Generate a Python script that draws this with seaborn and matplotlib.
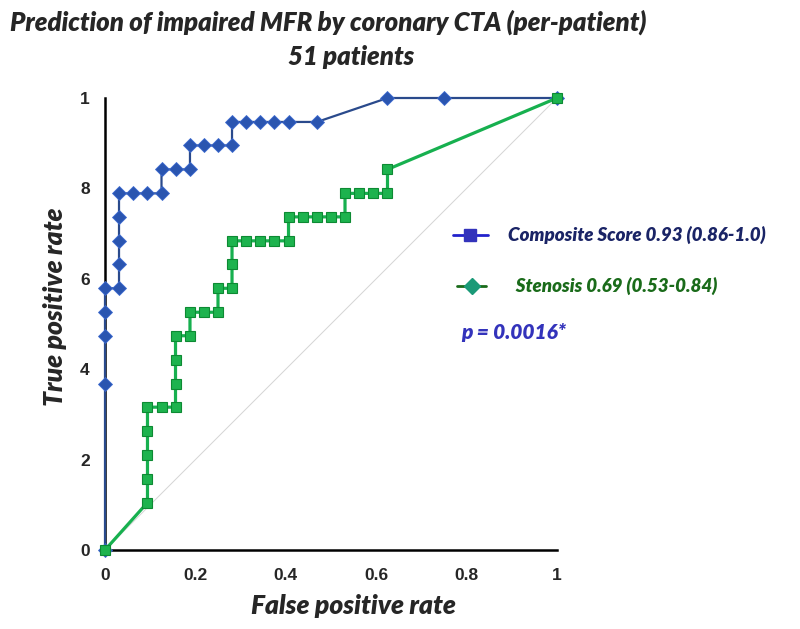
import matplotlib
matplotlib.use("Agg")
import matplotlib.pyplot as plt
import seaborn as sns
import pandas as pd
from matplotlib.lines import Line2D

# ---- data ----
comp_fpr = [0, 0, 0, 0, 0, 0.031, 0.031, 0.031, 0.031, 0.031, 0.063, 0.094, 0.125, 0.125,
            0.156, 0.188, 0.188, 0.219, 0.25, 0.281, 0.281, 0.313, 0.344, 0.375, 0.406,
            0.469, 0.625, 0.75, 1.0]
comp_tpr = [0, 0.368, 0.474, 0.526, 0.579, 0.579, 0.632, 0.684, 0.737, 0.789, 0.789, 0.789,
            0.789, 0.842, 0.842, 0.842, 0.895, 0.895, 0.895, 0.895, 0.947, 0.947, 0.947,
            0.947, 0.947, 0.947, 1.0, 1.0, 1.0]
sten_fpr = [0, 0.094, 0.094, 0.094, 0.094, 0.094, 0.125, 0.156, 0.156, 0.156, 0.156, 0.188,
            0.188, 0.219, 0.25, 0.25, 0.281, 0.281, 0.281, 0.313, 0.344, 0.375, 0.406,
            0.406, 0.438, 0.469, 0.5, 0.531, 0.531, 0.563, 0.594, 0.625, 0.625, 1.0]
sten_tpr = [0, 0.105, 0.158, 0.211, 0.263, 0.316, 0.316, 0.316, 0.368, 0.421, 0.474, 0.474,
            0.526, 0.526, 0.526, 0.579, 0.579, 0.632, 0.684, 0.684, 0.684, 0.684, 0.684,
            0.737, 0.737, 0.737, 0.737, 0.737, 0.789, 0.789, 0.789, 0.789, 0.842, 1.0]
ref_line = [0, 1]
x_ticks = [0, 0.2, 0.4, 0.6, 0.8, 1.0]
x_ticklabels = ["0", "0.2", "0.4", "0.6", "0.8", "1"]
y_ticks = [0, 0.2, 0.4, 0.6, 0.8, 1.0]
y_ticklabels = ["0", "2", "4", "6", "8", "1"]
title_lines = ["Prediction of impaired MFR by coronary CTA (per-patient)", "51 patients"]
leg_labels = ["Composite Score 0.93 (0.86-1.0)", "  Stenosis 0.69 (0.53-0.84)"]
p_text = "p = 0.0016*"

sns.set_style("white")
plt.rcParams['font.family'] = ['Lato', 'DejaVu Sans']
W = "heavy"

fig = plt.figure(figsize=(8, 6.29), dpi=100)
ax = fig.add_axes([105/800, 1-550/629, (557-105)/800, (550-98)/629])

# reference diagonal
sns.lineplot(x=ref_line, y=ref_line, ax=ax, color="#d4d4d4", linewidth=0.7, legend=False)

comp = pd.DataFrame({"fpr": comp_fpr, "tpr": comp_tpr})
sten = pd.DataFrame({"fpr": sten_fpr, "tpr": sten_tpr})

sns.lineplot(data=comp, x="fpr", y="tpr", ax=ax, sort=False, estimator=None,
             color="#2a4a8c", linewidth=1.6, marker="D", markersize=7,
             markerfacecolor="#2a55b0", markeredgecolor="#3d6ad0", markeredgewidth=0.6,
             clip_on=False, zorder=3, legend=False)
sns.lineplot(data=sten, x="fpr", y="tpr", ax=ax, sort=False, estimator=None,
             color="#17b04f", linewidth=2.3, marker="s", markersize=6.5,
             markerfacecolor="#1db34e", markeredgecolor="#0d8a33", markeredgewidth=0.8,
             clip_on=False, zorder=4, legend=False)

ax.set_xlim(0, 1)
ax.set_ylim(0, 1)
ax.set_xticks(x_ticks)
ax.set_xticklabels(x_ticklabels)
ax.set_yticks(y_ticks)
ax.set_yticklabels(y_ticklabels)
for lab in ax.get_xticklabels() + ax.get_yticklabels():
    lab.set_family(['Liberation Sans', 'DejaVu Sans'])
    lab.set_fontweight('bold')
    lab.set_fontsize(12.5)
ax.tick_params(axis='x', length=0, pad=13)
ax.tick_params(axis='y', length=0, pad=11)
for s in ["top", "right"]:
    ax.spines[s].set_visible(False)
for s in ["left", "bottom"]:
    ax.spines[s].set_color("black")
    ax.spines[s].set_linewidth(1.8)
    ax.spines[s].set_zorder(2)

ax.set_xlabel("False positive rate", fontsize=19, fontweight=W, style="italic")
ax.set_ylabel("True positive rate", fontsize=19, fontweight=W, style="italic")
ax.xaxis.set_label_coords((353-105)/452, -(606-550)/452)
ax.yaxis.set_label_coords(-(105-55)/452, (550-307)/452)
ax.xaxis.label.set_va("center")
ax.yaxis.label.set_va("center")

fig.text(328/800, 1-22/629, title_lines[0], ha="center", va="center", fontsize=18.5,
         fontweight=W, style="italic")
fig.text(351/800, 1-57/629, title_lines[1], ha="center", va="center", fontsize=18.5,
         fontweight=W, style="italic")

# legend-like annotations
fig.add_artist(Line2D([453/800, 488/800], [1-235/629, 1-235/629], color="#2222cc",
                      linewidth=2))
fig.add_artist(Line2D([470/800], [1-235/629], color="#3333bb", marker="s", markersize=9,
                      linestyle="none"))
fig.text(508/800, 1-235/629, leg_labels[0], ha="left", va="center", fontsize=13.5,
         fontweight=W, style="italic", color="#1a2466")
fig.add_artist(Line2D([457/800, 486/800], [1-286/629, 1-286/629], color="#1a6b1a",
                      linewidth=2))
fig.add_artist(Line2D([472/800], [1-286/629], color="#1a9a78", marker="D", markersize=8,
                      linestyle="none"))
fig.text(508/800, 1-286/629, leg_labels[1], ha="left", va="center", fontsize=13.5,
         fontweight=W, style="italic", color="#1a6b1a")
fig.text(461/800, 1-333/629, p_text, ha="left", va="center", fontsize=15,
         fontweight=W, style="italic", color="#3333bb")

fig.savefig("out.png", dpi=100)
